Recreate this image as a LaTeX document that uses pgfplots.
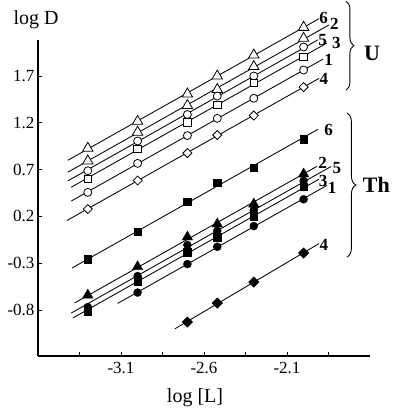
\documentclass[border=0pt]{standalone}
\usepackage{fontspec}
\setmainfont{Liberation Serif}
\usepackage{pgfplots}
\pgfplotsset{compat=1.18}
\usetikzlibrary{decorations.pathreplacing}

\tikzset{
  fit/.style={black, line width=0.85pt, no marks},
  lab/.style={font=\fontsize{17}{17}\selectfont\bfseries, inner sep=0pt},
}

\begin{document}
\begin{tikzpicture}
\begin{axis}[
  name=ax,
  scale only axis, width=332pt, height=316pt,
  xmin=-3.6, xmax=-1.6, ymin=-1.291, ymax=2.085,
  axis x line=bottom, axis y line=left,
  axis line style={-, line width=1.1pt},
  tick align=inside, major tick length=4pt,
  tick style={black, line width=0.9pt},
  xtick={-3.35,-3.1,-2.85,-2.6,-2.35,-2.1,-1.85},
  xticklabels={,-3.1,,-2.6,,-2.1,},
  ytick={-0.8,-0.3,0.2,0.7,1.2,1.7},
  yticklabels={-0.8,-0.3,0.2,0.7,1.2,1.7},
  tick label style={font=\fontsize{17}{17}\selectfont},
  xticklabel style={yshift=-3pt},
  clip=false,
]
% ---- U (open symbols) ----
\addplot[fit] coordinates {(-3.42,0.800) (-1.907,2.313)};
\addplot[fit] coordinates {(-3.42,0.673) (-1.847,2.246)};
\addplot[fit] coordinates {(-3.42,0.580) (-1.913,2.087)};
\addplot[fit] coordinates {(-3.40,0.512) (-1.860,2.052)};
\addplot[fit] coordinates {(-3.40,0.364) (-1.883,1.881)};
\addplot[fit] coordinates {(-3.425,0.157) (-1.907,1.675)};

\addplot[only marks, mark=triangle*, mark size=6pt, mark options={draw=black, fill=white, line width=0.8pt}]
  coordinates {(-3.3,0.928) (-3.0,1.216) (-2.7,1.508) (-2.52,1.70) (-2.3,1.924) (-2.0,2.220)};
\addplot[only marks, mark=triangle*, mark size=6pt, mark options={draw=black, fill=white, line width=0.8pt}]
  coordinates {(-3.3,0.792) (-3.0,1.100) (-2.7,1.385) (-2.52,1.556) (-2.3,1.801) (-2.0,2.103)};
\addplot[only marks, mark=*, mark size=4pt, mark options={draw=black, fill=white, line width=0.8pt}]
  coordinates {(-3.3,0.688) (-3.0,1.006) (-2.7,1.289) (-2.52,1.486) (-2.3,1.700) (-2.0,2.010)};
\addplot[only marks, mark=square*, mark size=3.8pt, mark options={draw=black, fill=white, line width=0.8pt}]
  coordinates {(-3.3,0.603) (-3.0,0.920) (-2.7,1.206) (-2.52,1.390) (-2.3,1.628) (-2.0,1.906)};
\addplot[only marks, mark=*, mark size=4pt, mark options={draw=black, fill=white, line width=0.8pt}]
  coordinates {(-3.3,0.457) (-3.0,0.767) (-2.7,1.064) (-2.52,1.248) (-2.3,1.462) (-2.0,1.764)};
\addplot[only marks, mark=square*, mark size=3.2pt, mark options={draw=black, fill=white, line width=0.8pt, rotate=45}]
  coordinates {(-3.3,0.279) (-3.0,0.584) (-2.7,0.877) (-2.52,1.070) (-2.3,1.278) (-2.0,1.582)};

% ---- Th (filled symbols) ----
\addplot[fit] coordinates {(-3.395,-0.351) (-1.913,1.131)};
\addplot[fit] coordinates {(-3.38,-0.725) (-1.92,0.735)};
\addplot[fit] coordinates {(-3.40,-0.832) (-1.835,0.733)};
\addplot[fit] coordinates {(-3.39,-0.885) (-1.907,0.598)};
\addplot[fit] coordinates {(-3.12,-0.729) (-1.859,0.532)};
\addplot[fit] coordinates {(-2.775,-1.000) (-1.907,-0.090)};

\addplot[only marks, mark=square*, mark size=3.8pt, black]
  coordinates {(-3.3,-0.258) (-3.0,0.037) (-2.7,0.357) (-2.52,0.560) (-2.3,0.720) (-2.0,1.024)};
\addplot[only marks, mark=*, mark size=4pt, black]
  coordinates {(-3.0,-0.613) (-2.7,-0.309) (-2.52,-0.124) (-2.3,0.097) (-2.0,0.383)};
\addplot[only marks, mark=square*, mark size=3.8pt, black]
  coordinates {(-3.3,-0.818) (-3.0,-0.490) (-2.7,-0.180) (-2.52,-0.023) (-2.3,0.204) (-2.0,0.517)};
\addplot[only marks, mark=*, mark size=4pt, black]
  coordinates {(-3.3,-0.768) (-3.0,-0.437) (-2.7,-0.106) (-2.52,0.047) (-2.3,0.268) (-2.0,0.581)};
\addplot[only marks, mark=triangle*, mark size=6pt, black]
  coordinates {(-3.3,-0.640) (-3.0,-0.337) (-2.7,-0.020) (-2.52,0.119) (-2.3,0.332) (-2.0,0.653)};
\addplot[only marks, mark=square*, mark size=3.7pt, black, mark options={rotate=45}]
  coordinates {(-2.7,-0.928) (-2.52,-0.725) (-2.3,-0.501) (-2.0,-0.191)};

% line numbers
\node[lab] at (axis cs:-1.880,2.316) {6};
\node[lab] at (axis cs:-1.815,2.256) {2};
\node[lab] at (axis cs:-1.886,2.085) {5};
\node[lab] at (axis cs:-1.803,2.056) {3};
\node[lab] at (axis cs:-1.850,1.871) {1};
\node[lab] at (axis cs:-1.878,1.668) {4};
\node[lab] at (axis cs:-1.850,1.123) {6};
\node[lab] at (axis cs:-1.886,0.771) {2};
\node[lab] at (axis cs:-1.799,0.717) {5};
\node[lab] at (axis cs:-1.882,0.578) {3};
\node[lab] at (axis cs:-1.828,0.503) {1};
\node[lab] at (axis cs:-1.878,-0.106) {4};

% braces
\draw[line width=0.9pt, decorate, decoration={brace, amplitude=8pt}]
  (axis cs:-1.745,2.50) -- (axis cs:-1.745,1.55);
\draw[line width=0.9pt, decorate, decoration={brace, amplitude=9pt}]
  (axis cs:-1.739,1.305) -- (axis cs:-1.739,-0.234);
\node[font=\fontsize{22}{22}\selectfont\bfseries] at (axis cs:-1.588,1.946) {U};
\node[font=\fontsize{22}{22}\selectfont\bfseries] at (axis cs:-1.562,0.535) {Th};

% axis titles
\node[font=\fontsize{20}{20}\selectfont] at (axis cs:-3.612,2.298) {log D};
\node[font=\fontsize{20}{20}\selectfont] at (axis cs:-2.654,-1.74) {log [L]};
\end{axis}
\pgfresetboundingbox
\path ([shift={(-38pt,-55pt)}]ax.south west) rectangle ([shift={(354pt,356pt)}]ax.south west);
\end{tikzpicture}
\end{document}
